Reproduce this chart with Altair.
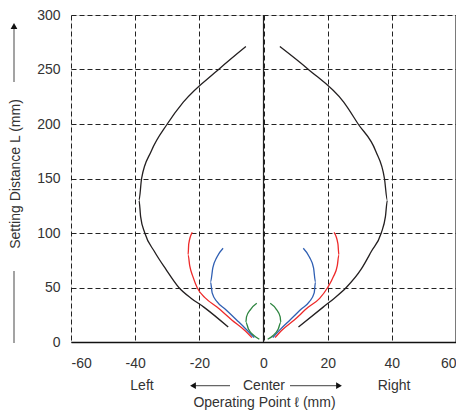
import altair as alt
import pandas as pd

# ---- data ----
black_left_x = [-5.5, -14, -25, -30, -35, -38, -38.8, -38.3, -37, -34, -30.5, -26.4, -22.5, -18.6, -11]
black_left_y = [271, 250, 220, 200, 175, 150, 130, 115, 100, 83, 67, 50, 40, 32, 13.7]
black_right_x = [5.1, 14, 25, 29.5, 35, 37.7, 38.6, 38, 36.7, 33.6, 30.5, 25.8, 22, 18.6, 10.9]
black_right_y = [271, 250, 220, 200, 175, 150, 130, 115, 100, 83, 67, 50, 40, 32, 13.7]

red_left_x = [-22.2, -23.3, -23.5, -23, -22, -20.7, -18, -14.5, -9.8, -6, -3.6]
red_left_y = [100.5, 90, 80, 70, 60, 50, 40, 32, 20, 11, 4]
red_right_x = [22, 23.2, 23.5, 23, 21.8, 20, 17.5, 14, 9.5, 5.8, 3.6]
red_right_y = [100.5, 90, 80, 70, 60, 50, 40, 32, 20, 11, 4]

blue_left_x = [-12.6, -14.5, -15.8, -16.5, -16, -14.5, -11.9, -8.3, -5.5, -2.9]
blue_left_y = [86, 78, 68, 55, 45, 37, 30, 20, 12, 4]
blue_right_x = [12.4, 14.3, 15.6, 16.2, 15.8, 14.3, 11.7, 8.2, 5.4, 2.9]
blue_right_y = [86, 78, 68, 55, 45, 37, 30, 20, 12, 4]

green_left_x = [-2.1, -4, -5.3, -5.5, -4.7, -3, -1.3]
green_left_y = [35.5, 30, 23, 18, 12, 6, 2.5]
green_right_x = [2.1, 4, 5.2, 5.4, 4.6, 3, 1.3]
green_right_y = [35.5, 30, 23, 18, 12, 6, 2.5]

x_ticks = [-60, -40, -20, 0, 20, 40, 60]
y_ticks = [0, 50, 100, 150, 200, 250, 300]

y_title = "Setting Distance L (mm)"
x_title = "Operating Point \u2113 (mm)"
dir_labels = ["Left", "Center", "Right"]

series = [
    ("black_left", black_left_x, black_left_y, "#231f20"),
    ("black_right", black_right_x, black_right_y, "#231f20"),
    ("red_left", red_left_x, red_left_y, "#ee2a2a"),
    ("red_right", red_right_x, red_right_y, "#ee2a2a"),
    ("blue_left", blue_left_x, blue_left_y, "#2f5fb3"),
    ("blue_right", blue_right_x, blue_right_y, "#2f5fb3"),
    ("green_left", green_left_x, green_left_y, "#2e8540"),
    ("green_right", green_right_x, green_right_y, "#2e8540"),
]

rows = []
for name, xs, ys, col in series:
    for i, (xv, yv) in enumerate(zip(xs, ys)):
        rows.append({"series": name, "x": xv, "y": yv, "order": i})
df = pd.DataFrame(rows)

W, H = 385, 327
FONT = "Liberation Sans"
FS = 14

xscale = alt.Scale(domain=[-60, 60], nice=False, zero=False)
yscale = alt.Scale(domain=[0, 300], nice=False, zero=False)

x_axis = alt.Axis(values=x_ticks, title=None, grid=True, gridDash=[5, 3], gridColor="#222",
                  gridOpacity=1, ticks=False, labelPadding=14, labelFontSize=FS, labelColor="#333",
                  labelFont=FONT, domainColor="#111", domainWidth=1.5,
                  labelExpr="'' + datum.value")
y_axis = alt.Axis(values=y_ticks, title=None, grid=True, gridDash=[5, 3], gridColor="#222",
                  gridOpacity=1, ticks=False, labelPadding=11, labelFontSize=FS, labelColor="#333",
                  labelFont=FONT, domain=False, labelExpr="'' + datum.value")

base = alt.Chart(df)

grid = alt.Chart(pd.DataFrame({"x": [0], "y": [0]})).mark_point(opacity=0).encode(
    x=alt.X("x:Q", scale=xscale, axis=x_axis),
    y=alt.Y("y:Q", scale=yscale, axis=y_axis),
)

vlines = alt.Chart(pd.DataFrame({"x": [0, 60]})).mark_rule(color="#222", strokeWidth=1.2).encode(
    x=alt.X("x:Q", scale=xscale), y=alt.value(0), y2=alt.value(H)
)

color_domain = [s[0] for s in series]
color_range = [s[3] for s in series]

lines = base.mark_line(strokeWidth=1.3, interpolate="monotone").encode(
    x=alt.X("x:Q", scale=xscale),
    y=alt.Y("y:Q", scale=yscale),
    color=alt.Color("series:N", scale=alt.Scale(domain=color_domain, range=color_range), legend=None),
    order="order:Q",
    detail="series:N",
)

# ---- annotations ----
# plot origin is at page (71, 15)
def txt(s, xr, yr, angle=0, baseline="middle"):
    return alt.Chart(pd.DataFrame({"t": [s]})).mark_text(
        font=FONT, fontSize=FS, color="#333", angle=angle, align="center", baseline=baseline
    ).encode(text="t:N", x=alt.value(xr), y=alt.value(yr))

ann = [
    txt(dir_labels[0], 71, 370.5),
    txt(dir_labels[1], 193, 370.5),
    txt(dir_labels[2], 323, 371),
    txt(x_title, 193.5, 387.5),
    txt(y_title, -51.5, 159, angle=270, baseline="alphabetic"),
]

def rule(x1, y1, x2, y2, color="#666"):
    return alt.Chart(pd.DataFrame({"a": [0]})).mark_rule(color=color, strokeWidth=1.2).encode(
        x=alt.value(x1), y=alt.value(y1), x2=alt.value(x2), y2=alt.value(y2)
    )

def head(xr, yr, shape):
    return alt.Chart(pd.DataFrame({"a": [0]})).mark_point(
        shape=shape, filled=True, color="#111", size=45, opacity=1
    ).encode(x=alt.value(xr), y=alt.value(yr))

arrows = [
    rule(123, 370.7, 159, 370.7),
    head(122, 370.7, "triangle-left"),
    rule(219, 370.7, 266, 370.7),
    head(268, 370.7, "triangle-right"),
    rule(-57, 14, -57, 67),
    head(-57, 11, "triangle-up"),
    rule(-57, 256, -57, 328),
]

chart = alt.layer(grid, vlines, lines, *ann, *arrows).properties(
    width=W, height=H,
    autosize=alt.AutoSizeParams(type="none"),
    padding={"left": 63, "top": 7, "right": 0, "bottom": 68},
).configure_view(stroke=None).configure(background="white")

chart.save("out.html", embed_options={"renderer": "svg", "actions": False})
